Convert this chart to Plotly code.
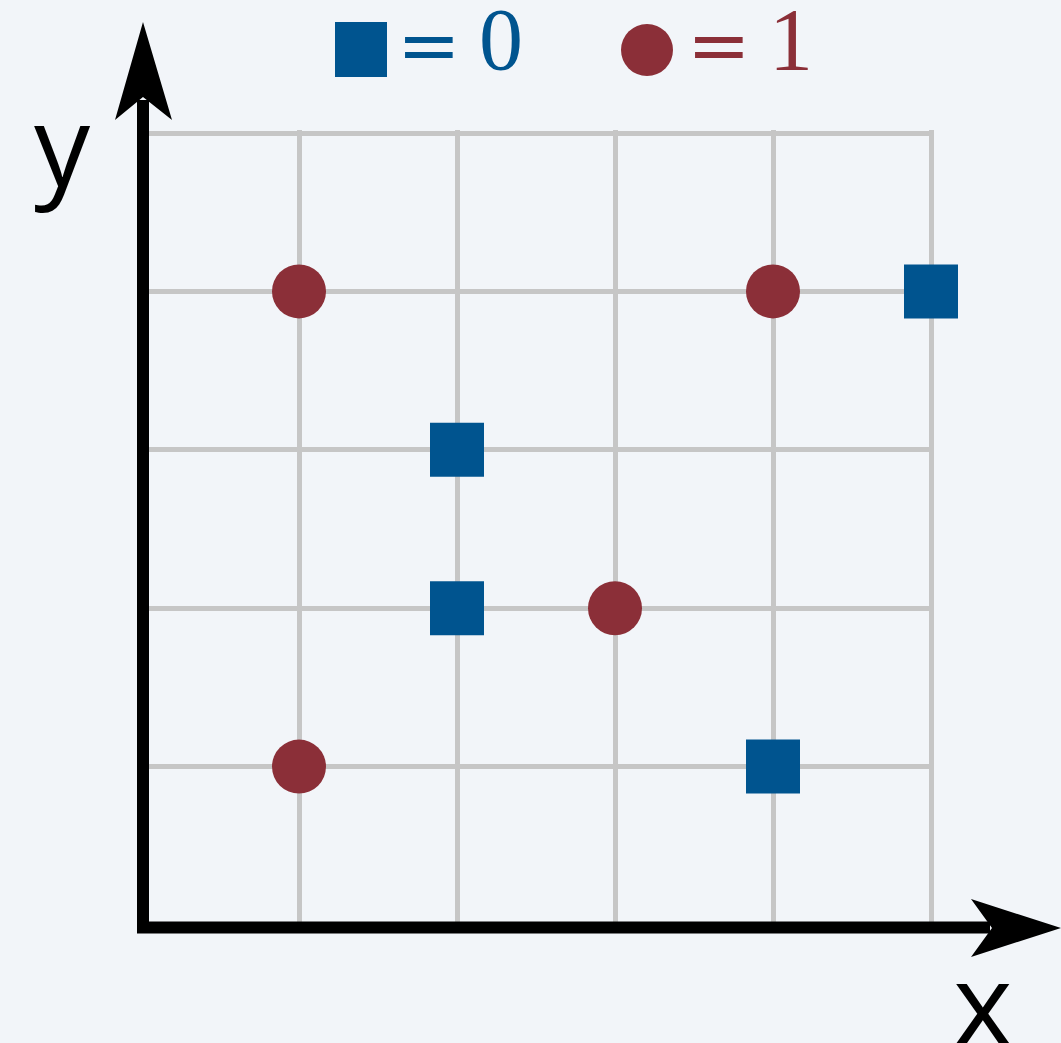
import plotly.graph_objects as go

# points of the two classes
class0_x = [5, 2, 2, 4]
class0_y = [4, 3, 2, 1]
class1_x = [1, 4, 3, 1]
class1_y = [4, 4, 2, 1]

blue = "#00548f"
red = "#8b2f38"
bg = "#f2f5f9"

W, H = 1061, 1043
# plot area in pixels (data 0..5 plus a small pad)
L, R, T, B = 138, 934, 130, 928
pad_x = 3 / 158
pad_y = 3 / 158.4


def px(x):
    return (x - L) / (R - L)


def py(y):
    return (B - y) / (B - T)


fig = go.Figure()
fig.add_trace(go.Scatter(x=class0_x, y=class0_y, mode="markers", cliponaxis=False,
                         marker=dict(symbol="square", size=54, color=blue, line=dict(width=0)),
                         showlegend=False))
fig.add_trace(go.Scatter(x=class1_x, y=class1_y, mode="markers", cliponaxis=False,
                         marker=dict(symbol="circle", size=54, color=red, line=dict(width=0)),
                         showlegend=False))

shapes = []
# axis lines
shapes.append(dict(type="line", xref="paper", yref="paper", x0=px(143), x1=px(143), y0=py(933), y1=py(100),
                   line=dict(color="black", width=12)))
shapes.append(dict(type="line", xref="paper", yref="paper", x0=px(137), x1=px(990), y0=py(927.5), y1=py(927.5),
                   line=dict(color="black", width=12)))
# arrow heads
head_y = [(143, 22), (115, 120), (143, 97), (172, 120)]
head_x = [(1061, 928), (971, 899), (992, 928), (971, 957)]
for head in (head_y, head_x):
    path = "M " + " L ".join(f"{px(a):.5f},{py(b):.5f}" for a, b in head) + " Z"
    shapes.append(dict(type="path", xref="paper", yref="paper", path=path,
                       fillcolor="black", line=dict(width=0)))
# legend keys
shapes.append(dict(type="rect", xref="paper", yref="paper", x0=px(335), x1=px(387), y0=py(77), y1=py(22),
                   fillcolor=blue, line=dict(width=0)))
shapes.append(dict(type="circle", xref="paper", yref="paper", x0=px(621), x1=px(673), y0=py(76), y1=py(24),
                   fillcolor=red, line=dict(width=0)))

serif = "Liberation Serif"
annotations = [
    dict(text="y", x=px(62), y=py(142), font=dict(family="Open Sans", size=112, color="black")),
    dict(text="x", x=px(983), y=py(1000), font=dict(family="Open Sans", size=114, color="black")),
    dict(text="=", x=px(429), y=py(45), font=dict(family="DejaVu Serif", size=76, color=blue)),
    dict(text="0", x=px(501), y=py(39), font=dict(family=serif, size=88, color=blue)),
    dict(text="=", x=px(719), y=py(45), font=dict(family="DejaVu Serif", size=76, color=red)),
    dict(text="1", x=px(791), y=py(39), font=dict(family=serif, size=88, color=red)),
]
for a in annotations:
    a.update(xref="paper", yref="paper", showarrow=False, xanchor="center", yanchor="middle")

axis = dict(showgrid=True, gridcolor="#c6c6c6", gridwidth=5, dtick=1, tick0=0,
            zeroline=False, showticklabels=False, ticks="", showline=False)
fig.update_xaxes(range=[-pad_x, 5 + pad_x], **axis)
fig.update_yaxes(range=[-pad_y, 5 + pad_y], **axis)

fig.update_layout(width=W, height=H, paper_bgcolor=bg, plot_bgcolor=bg,
                  margin=dict(l=L, r=W - R, t=T, b=H - B),
                  shapes=shapes, annotations=annotations, showlegend=False)

fig.write_html("out.html", config={"displayModeBar": False},
               post_script="document.body.style.margin='0';document.body.style.background='%s';" % bg)
